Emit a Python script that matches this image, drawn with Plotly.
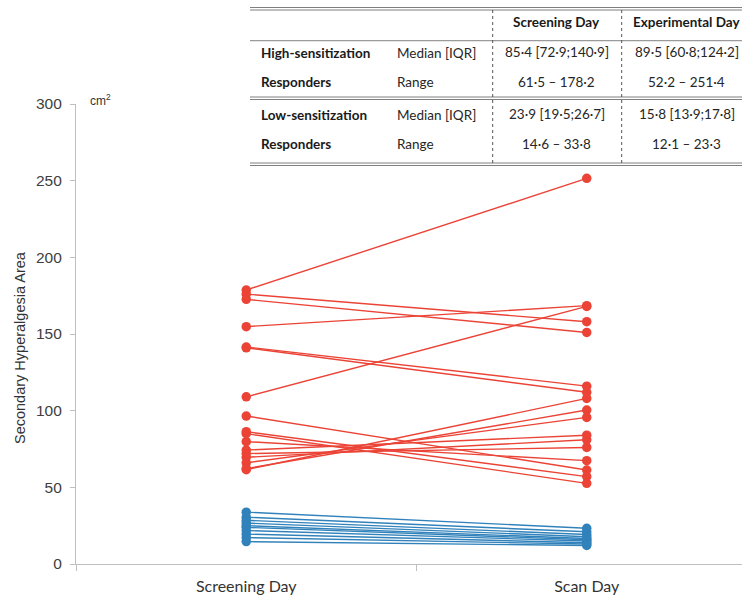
import plotly.graph_objects as go

# Secondary hyperalgesia area (cm^2), paired per participant: screening day -> scan day
days = ["Screening Day", "Scan Day"]

high_screening = [178.7, 176.0, 172.6, 154.8, 141.5, 141.0, 109.0, 96.5, 86.3,
                  85.0, 79.8, 74.3, 72.0, 69.6, 66.0, 62.2, 61.5]
high_scan = [251.5, 158.0, 151.0, 168.5, 116.0, 112.0, 168.0, 61.3, 57.0,
             52.6, 67.4, 84.0, 76.0, 81.0, 95.6, 100.4, 108.0]

low_screening = [33.8, 30.5, 28.5, 26.7, 25.0, 23.9, 21.8, 19.5, 17.2, 14.6]
low_scan = [23.3, 21.0, 19.2, 17.8, 16.6, 15.8, 15.0, 13.9, 13.0, 12.1]

y_ticks = [0, 50, 100, 150, 200, 250, 300]

# Summary table
table_header = ["Screening Day", "Experimental Day"]
table_groups = [("High-sensitization", "Responders"), ("Low-sensitization", "Responders")]
table_stats = ["Median [IQR]", "Range"]
table_screening = ["85·4 [72·9;140·9]", "61·5 – 178·2", "23·9 [19·5;26·7]", "14·6 – 33·8"]
table_experimental = ["89·5 [60·8;124·2]", "52·2 – 251·4", "15·8 [13·9;17·8]", "12·1 – 23·3"]

RED = "rgb(234,58,44)"
BLUE = "rgb(38,124,184)"


def paired(a, b):
    xs, ys = [], []
    for s, e in zip(a, b):
        xs += [days[0], days[1], None]
        ys += [s, e, None]
    return xs, ys


fig = go.Figure()
for a, b, col in [(low_screening, low_scan, BLUE), (high_screening, high_scan, RED)]:
    xs, ys = paired(a, b)
    fig.add_trace(go.Scatter(
        x=xs, y=ys, mode="lines+markers",
        line=dict(color=col, width=1.4),
        marker=dict(color=col, size=9.5),
        opacity=0.95, showlegend=False, hoverinfo="skip"))

# plot area in pixels
L, T, B, W, H = 76, 104, 34, 742, 598
PW, PH = W - L, H - T - B


def px(x):
    return (x - L) / PW


def py(y):
    return (H - B - y) / PH


shapes = []
ann = []
TX0, TX1 = 250, 742
grey = "#7f7f7f"


def hline(y, w=1.0, c=grey):
    shapes.append(dict(type="line", xref="paper", yref="paper",
                       x0=px(TX0), x1=px(TX1), y0=py(y), y1=py(y),
                       line=dict(color=c, width=w)))


for y in (7.5, 10.0, 97.0, 99.5, 163.0, 165.5):
    hline(y, 1.0)
hline(40.7, 1.3, "#9a9a9a")

for x in (492.7, 621.7):
    shapes.append(dict(type="line", xref="paper", yref="paper",
                       x0=px(x), x1=px(x), y0=py(10), y1=py(163),
                       line=dict(color="#555555", width=1, dash="dot")))

tfont = dict(family="Lato, Open Sans, sans-serif", size=13.5, color="#262626")
bfont = dict(family="Lato, Open Sans, sans-serif", size=13.5, color="#1a1a1a")


def text(x, y, s, font, anchor="left"):
    ann.append(dict(xref="paper", yref="paper", x=px(x), y=py(y), text=s,
                    showarrow=False, xanchor=anchor, yanchor="middle", font=font))


text(556.7, 22, "<b>" + table_header[0] + "</b>", bfont, "center")
text(686.7, 22, "<b>" + table_header[1] + "</b>", bfont, "center")
row_y = [53, 82, 115, 143.5]
for g, (l1, l2) in enumerate(table_groups):
    text(259, row_y[2 * g], "<b>" + l1 + "</b>", bfont)
    text(259, row_y[2 * g + 1], "<b>" + l2 + "</b>", bfont)
    for k in range(2):
        i = 2 * g + k
        text(395, row_y[i], table_stats[k], tfont)
        text(556.7, row_y[i] - 1.5 * (k == 0), table_screening[i], tfont, "center")
        text(686.7, row_y[i] - 1.5 * (k == 0), table_experimental[i], tfont, "center")

ann.append(dict(xref="paper", yref="paper", x=px(88), y=py(100), text="cm<sup>2</sup>",
                showarrow=False, xanchor="left", yanchor="middle",
                font=dict(family="Liberation Sans, Arial", size=12, color="#333333")))

# axis title, sitting slightly below the plot centre
ann.append(dict(xref="paper", yref="paper", x=px(20), y=py(348),
                text="Secondary Hyperalgesia Area", textangle=-90,
                showarrow=False, xanchor="center", yanchor="middle",
                font=dict(family="Liberation Sans, Arial", size=14.5, color="#333333")))

fig.update_layout(
    width=W, height=H,
    margin=dict(l=L, r=0, t=T, b=B, pad=0),
    paper_bgcolor="white", plot_bgcolor="white",
    shapes=shapes, annotations=ann,
    xaxis=dict(type="category", categoryorder="array", categoryarray=days,
               range=[-0.5, 1.456], showgrid=False, zeroline=False,
               showline=True, linecolor="#bfbfbf", linewidth=1.2,
               ticks="outside", ticklen=6, tickcolor="#bfbfbf", tickson="boundaries",
               ticklabelstandoff=8,
               tickfont=dict(family="Lato, Open Sans, sans-serif", size=16, color="#333333")),
    yaxis=dict(range=[0, 300], tickvals=y_ticks, showgrid=False, zeroline=False,
               showline=True, linecolor="#bfbfbf", linewidth=1.2,
               ticks="outside", ticklen=5, tickcolor="#bfbfbf",
               ticklabelstandoff=5,
               tickfont=dict(family="Liberation Sans, Arial", size=15.5, color="#404040")),
)

fig.write_html("out.html")
